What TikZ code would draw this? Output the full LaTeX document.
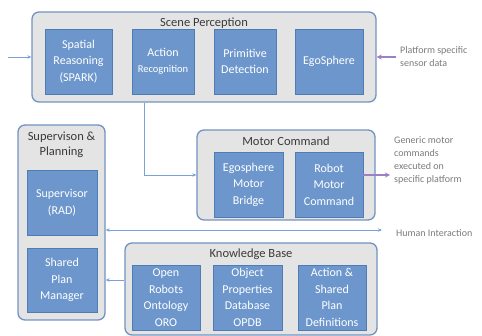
\documentclass[tikz,border=0pt]{standalone}
\usepackage{fontspec}
\setmainfont{Carlito}
\usetikzlibrary{arrows.meta}
\definecolor{innerfill}{HTML}{6D97CC}
\definecolor{innerline}{HTML}{4E7DB6}
\definecolor{outerfill}{HTML}{E4E4E4}
\definecolor{outerline}{HTML}{7293C2}
\definecolor{titletext}{HTML}{3A3A3A}
\definecolor{sidetext}{HTML}{7A7A7A}
\definecolor{conn}{HTML}{7AA2D6}
\definecolor{purp}{HTML}{9B80C4}
\tikzset{
  outerbox/.style={draw=outerline, fill=outerfill, line width=1.3pt, rounded corners=7pt, inner sep=0pt},
  innerbox/.style={draw=innerline, fill=innerfill, line width=0.8pt, inner sep=1pt, align=center,
     text=white, font=\fontsize{12}{16.5}\selectfont},
  titlelbl/.style={text=titletext, font=\fontsize{12.5}{15}\selectfont, align=center, inner sep=0pt},
  sidelbl/.style={text=sidetext, font=\fontsize{10}{13}\selectfont, align=left, anchor=west, inner sep=0pt},
  bluearrow/.style={draw=conn, line width=0.8pt, -{Stealth[length=4pt,width=3.5pt]}},
  bluedouble/.style={draw=conn, line width=0.8pt, {Stealth[length=4pt,width=3.5pt]}-{Stealth[length=4pt,width=3.5pt]}},
  purparrow/.style={draw=purp, line width=1.6pt, -{Stealth[length=5pt,width=5pt]}}
}
\begin{document}
\begin{tikzpicture}[x=1pt,y=-1pt]
\useasboundingbox (0,0) rectangle (482,336);
% Scene Perception
\node[outerbox, minimum width=344pt, minimum height=90pt] (sp) at (204,57) {};
\node[titlelbl] (spt) at (204,23) {Scene Perception};
\node[innerbox, minimum width=67pt, minimum height=65pt] (spark) at (78.5,61.5) {Spatial\\Reasoning\\(SPARK)};
\node[innerbox, minimum width=62pt, minimum height=65pt] (act) at (163,61.5) {Action\\{\fontsize{10.5}{12}\selectfont Recognition}};
\node[innerbox, minimum width=62pt, minimum height=65pt] (prim) at (245,61.5) {Primitive\\Detection};
\node[innerbox, minimum width=68pt, minimum height=65pt] (ego) at (329,61.5) {EgoSphere};
% Motor Command
\node[outerbox, minimum width=178pt, minimum height=90pt] (mc) at (286,175) {};
\node[titlelbl] (mct) at (286,141) {Motor Command};
\node[innerbox, minimum width=69pt, minimum height=65pt] (emb) at (248.5,184.5) {Egosphere\\Motor\\Bridge};
\node[innerbox, minimum width=68pt, minimum height=65pt] (rmc) at (329,184.5) {Robot\\Motor\\Command};
% Supervision & Planning
\node[outerbox, minimum width=87pt, minimum height=195pt] (supp) at (61.5,222.5) {};
\node[titlelbl] (suppt) at (61.5,144.5) {Supervison \&\\Planning};
\node[innerbox, minimum width=70pt, minimum height=65pt] (sup) at (62,202.5) {Supervisor\\(RAD)};
\node[innerbox, minimum width=70pt, minimum height=64pt] (spm) at (62,280) {Shared\\Plan\\Manager};
% Knowledge Base
\node[outerbox, minimum width=252pt, minimum height=92pt] (kb) at (251,289) {};
\node[titlelbl] (kbt) at (251,254) {Knowledge Base};
\node[innerbox, minimum width=68pt, minimum height=65pt] (oro) at (166,297.5) {Open\\Robots\\Ontology\\ORO};
\node[innerbox, minimum width=69pt, minimum height=65pt] (opdb) at (247.5,297.5) {Object\\Properties\\Database\\OPDB};
\node[innerbox, minimum width=68pt, minimum height=65pt] (aspd) at (332,297.5) {Action \&\\Shared\\Plan\\Definitions};
% side texts
\node[sidelbl] (sens) at (400,57) {Platform specific\\sensor data};
\node[sidelbl] (gen) at (394,160) {Generic motor\\commands\\executed on\\specific platform};
\node[sidelbl] (hum) at (396,233) {Human Interaction};
% coordinates
\coordinate (lin) at (8,57);
\coordinate (pin) at (396,57);
\coordinate (cx) at (144,0);
\coordinate (pout) at (390,175);
\coordinate (hin) at (382,230);
% connectors
\draw[bluearrow] (lin) -- (lin -| sp.west);
\draw[purparrow] (pin) -- (pin -| sp.east);
\draw[bluearrow] (sp.south -| cx) |- (mc.west);
\draw[purparrow] (rmc.east |- mc.west) -- (pout);
\draw[bluedouble] (supp.east |- hin) -- (hin);
\draw[bluearrow] (kb.west |- spm) -- (supp.east |- spm);
\end{tikzpicture}
\end{document}
